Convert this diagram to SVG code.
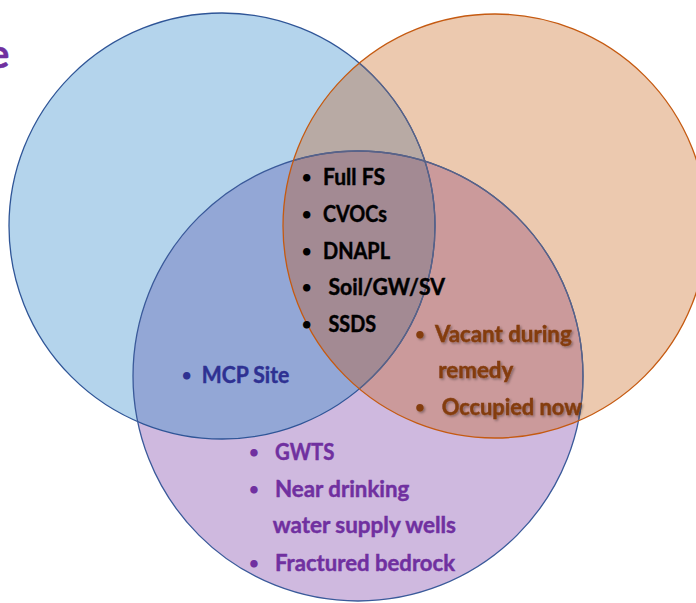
<svg xmlns="http://www.w3.org/2000/svg" width="696" height="603" viewBox="0 0 696 603">
<style>
.t{font-family:Lato,"Liberation Sans",sans-serif;font-weight:700;font-size:22px;stroke-width:0.45px}
.k{fill:#000;stroke:#000}
.o{fill:#843C0C;stroke:#843C0C}
.m{fill:#2E3192;stroke:#2E3192}
.p{fill:#7030A0;stroke:#7030A0}
.b{text-anchor:middle;font-size:17px;stroke-width:0}
.ln{fill:none;stroke-width:1.3}
</style>
<defs>
<clipPath id="cB"><circle cx="222" cy="226" r="213"/></clipPath>
<clipPath id="cO"><circle cx="495" cy="226" r="212"/></clipPath>
<clipPath id="cP"><circle cx="358" cy="376" r="225"/></clipPath>
<filter id="sh" x="-10%" y="-40%" width="130%" height="180%"><feDropShadow dx="1.5" dy="1.5" stdDeviation="1" flood-color="#000" flood-opacity="0.35"/></filter>
</defs>
<rect width="696" height="603" fill="#fff"/>
<text class="t p" x="-12" y="68" style="font-size:40px">e</text>
<g id="fills">
<circle cx="222" cy="226" r="213" fill="#B4D4EC"/>
<circle cx="495" cy="226" r="212" fill="#ECC9AF"/>
<circle cx="358" cy="376" r="225" fill="#CFB9DF"/>
<circle cx="495" cy="226" r="212" fill="#B8AAA4" clip-path="url(#cB)"/>
<circle cx="358" cy="376" r="225" fill="#93A7D6" clip-path="url(#cB)"/>
<circle cx="358" cy="376" r="225" fill="#CB9A9B" clip-path="url(#cO)"/>
<g clip-path="url(#cO)"><circle cx="358" cy="376" r="225" fill="#A38A93" clip-path="url(#cB)"/></g>
</g>
<g id="outlines">
<circle class="ln" cx="222" cy="226" r="213" stroke="#2F5597"/>
<circle class="ln" cx="358" cy="376" r="225" stroke="#3A5A9A"/>
<g clip-path="url(#cO)">
<circle class="ln" cx="222" cy="226" r="213" stroke="#5A6285"/>
<circle class="ln" cx="358" cy="376" r="225" stroke="#5A6285"/>
</g>
<circle class="ln" cx="495" cy="226" r="212" stroke="#C55A11"/>
</g>
<g id="node-center">
<text class="t k b" x="306.7" y="183">•</text>
<text class="t k" x="323" y="185" textLength="62" lengthAdjust="spacingAndGlyphs">Full FS</text>
<text class="t k b" x="306.7" y="220">•</text>
<text class="t k" x="323" y="222" textLength="64" lengthAdjust="spacingAndGlyphs">CVOCs</text>
<text class="t k b" x="306.7" y="256.5">•</text>
<text class="t k" x="323" y="258.5" textLength="67" lengthAdjust="spacingAndGlyphs">DNAPL</text>
<text class="t k b" x="306.7" y="293">•</text>
<text class="t k" x="328.5" y="295" textLength="116.5" lengthAdjust="spacingAndGlyphs">Soil/GW/SV</text>
<text class="t k b" x="306.7" y="329.5">•</text>
<text class="t k" x="328.5" y="331.5" textLength="47.5" lengthAdjust="spacingAndGlyphs">SSDS</text>
</g>
<g id="node-orange" filter="url(#sh)">
<text class="t o b" x="420" y="339.7">•</text>
<text class="t o" x="435" y="341.7" textLength="136.7" lengthAdjust="spacingAndGlyphs">Vacant during</text>
<text class="t o" x="438.3" y="378" textLength="75" lengthAdjust="spacingAndGlyphs">remedy</text>
<text class="t o b" x="420" y="413">•</text>
<text class="t o" x="441.7" y="415" textLength="140" lengthAdjust="spacingAndGlyphs">Occupied now</text>
</g>
<g id="node-blue">
<text class="t m b" x="186.7" y="381.3">•</text>
<text class="t m" x="201.7" y="383.3" textLength="87.6" lengthAdjust="spacingAndGlyphs">MCP Site</text>
</g>
<g id="node-purple">
<text class="t p b" x="254" y="458">•</text>
<text class="t p" x="275" y="460" textLength="59.3" lengthAdjust="spacingAndGlyphs">GWTS</text>
<text class="t p b" x="254" y="494.7">•</text>
<text class="t p" x="275" y="496.7" textLength="134.3" lengthAdjust="spacingAndGlyphs">Near drinking</text>
<text class="t p" x="272.7" y="533.3" textLength="183.3" lengthAdjust="spacingAndGlyphs">water supply wells</text>
<text class="t p b" x="254" y="568.7">•</text>
<text class="t p" x="275" y="570.7" textLength="180" lengthAdjust="spacingAndGlyphs">Fractured bedrock</text>
</g>
</svg>
